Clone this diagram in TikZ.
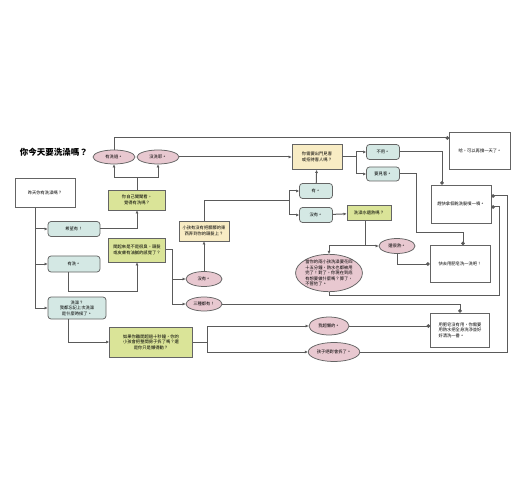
\documentclass[tikz,border=0pt]{standalone}
\usepackage{fontspec}
\newfontfamily\cjk{Noto Sans CJK TC}
\usepackage{tikz}
\usetikzlibrary{positioning, arrows.meta, shapes.geometric}
\definecolor{TealFill}{RGB}{212,232,228}
\definecolor{GreenFill}{RGB}{218,228,152}
\definecolor{SandFill}{RGB}{248,236,196}
\definecolor{PinkFill}{RGB}{232,200,208}
\definecolor{LineGray}{RGB}{90,90,90}
\definecolor{BorderGray}{RGB}{100,100,100}

\begin{document}
\begin{tikzpicture}[x=1pt, y=-1pt, >={Latex[length=3pt,width=3pt]}, line width=1pt,
    box/.style={draw=BorderGray, line width=0.75pt, inner sep=1pt, align=center,
      font=\cjk\fontsize{4.3}{5.6}\selectfont},
    plain/.style={box, fill=white},
    choice/.style={box, fill=TealFill, rounded corners=3pt},
    ask/.style={box, fill=GreenFill},
    sand/.style={box, fill=SandFill},
    oval/.style={box, ellipse, fill=PinkFill},
    conn/.style={draw=LineGray, ->},
    hit/.style={draw=LineGray, -{Circle[length=3.5pt]}}]
  % Page
  \useasboundingbox[fill=white] (0,0) rectangle (520,500);
  % Title
  \node[anchor=west, font=\cjk\bfseries\fontsize{8.5}{10}\selectfont] (title) at (16,152) {你今天要洗澡嗎？};
  % Start and first answers
  \node[plain, minimum width=60, minimum height=29] (start) at (45,193) {昨天你有洗澡嗎？};
  \node[choice, minimum width=52, minimum height=15] (hope) at (74,229) {希望有！};
  \node[choice, minimum width=52, minimum height=16] (yes) at (74,264) {有洗。};
  \node[choice, minimum width=58, minimum height=22] (forgot) at (77,308) {洗澡？\\我都忘記上次洗澡\\是什麼時候了。};
  % Questions (green)
  \node[ask, minimum width=57, minimum height=20] (smell) at (137,200) {你自己聞聞看，\\覺得有洗嗎？};
  \node[ask, minimum width=57, minimum height=24] (greasy) at (137,250) {聞起來是不是很臭，頭髮\\或皮膚有油膩的感覺了？};
  \node[ask, minimum width=83, minimum height=30] (leave) at (151,342) {如果你離開超過十秒鐘，你的\\小孩會把整間房子拆了嗎？還\\是你只是懶得動？};
  \node[ask, minimum width=44, minimum height=15] (hot) at (369,213) {洗澡水還熱嗎？};
  % Questions (sand)
  \node[sand, minimum width=50, minimum height=20] (dirt) at (204,231) {小孩有沒有把髒髒的東\\西弄到你的頭髮上？};
  \node[sand, minimum width=50, minimum height=25] (goout) at (317,157) {你需要出門見客\\或招待客人嗎？};
  % Ellipses
  \node[oval, minimum width=42, minimum height=14] (washed) at (114,157) {有洗過。};
  \node[oval, minimum width=42, minimum height=14] (notwashed) at (158,157) {沒洗耶。};
  \node[oval, minimum width=36, minimum height=15] (none) at (204,279) {沒有。};
  \node[oval, minimum width=36, minimum height=14] (allthree) at (204,304) {三種都有！};
  \node[oval, minimum width=36, minimum height=15] (stillhot) at (397,246) {還很熱。};
  \node[oval, minimum width=66, minimum height=37, inner sep=0pt, align=left] (kids) at (329,273) {當你的兩小孩洗澡要花四\\十五分鐘，熱水也都被用\\完了！對了，你現在到底\\有想要做什麼嗎？算了，\\不管他了。};
  \node[oval, minimum width=40, minimum height=18] (lazy) at (329,326) {我超懶的。};
  \node[oval, minimum width=50, minimum height=19] (destroy) at (334,352) {孩子絕對會拆了。};
  % Small answers (teal)
  \node[choice, minimum width=33, minimum height=15] (yes2) at (316,191) {有。};
  \node[choice, minimum width=33, minimum height=15] (no2) at (316,215) {沒有。};
  \node[choice, minimum width=33, minimum height=15] (noneed) at (383,152) {不用。};
  \node[choice, minimum width=33, minimum height=14] (guests) at (383,174) {要見客。};
  % Outcomes
  \node[plain, minimum width=61, minimum height=37] (oneday) at (480,151) {哈，可以再撐一天了。};
  \node[plain, minimum width=60, minimum height=38] (dryshampoo) at (461,204) {趕快拿個乾洗髮噴一噴。};
  \node[plain, minimum width=60, minimum height=37] (soap) at (460,264) {快去用肥皂洗一洗吧！};
  \node[plain, minimum width=59, minimum height=34, align=left] (scrub) at (460,330) {用肥皂沒有用，你需要\\用熱水把全身洗淨並好\\好清洗一番。};
  % Trunk from the start box
  \coordinate (trunk) at ([xshift=-10pt]start.south);
  \draw[conn] (trunk) |- (hope);
  \draw[conn] (trunk) |- (yes);
  \draw[conn] (trunk) |- (forgot);
  % Hope branch
  \draw[conn] (hope.east) -| (smell.south);
  \draw[draw=LineGray] (smell.north) -- ++(0,-12) coordinate (sj);
  \draw[conn] (sj) -| (washed.south);
  \draw[conn] (sj) -| (notwashed.south);
  \draw[hit] (washed.north) |- (oneday.west |- 0,138);
  \draw[conn] (notwashed) -- (goout);
  % Yes branch
  \draw[conn] ([xshift=-6pt]yes.south) -- ++(0,19) -| (greasy.south);
  \draw[draw=LineGray] (greasy.east) -- ++(7,0) coordinate (gj);
  \draw[conn] (gj) |- (none);
  \draw[conn] (gj) |- (allthree);
  \draw[conn] (none) -- (dirt);
  \coordinate (dj) at (289,201);
  \draw[draw=LineGray] (dirt.north) |- (dj);
  \draw[conn] (dj) |- (yes2);
  \draw[conn] (dj) |- (no2);
  \draw[conn] (yes2) -- (goout);
  \draw[conn] (no2) -- (hot);
  % Going out
  \draw[draw=LineGray] (goout.east) -- ++(14,0) coordinate (oj);
  \draw[conn] (oj) |- (noneed);
  \draw[conn] (oj) |- (guests);
  \draw[hit] (noneed.east) -| ([xshift=-19pt]dryshampoo.north);
  \draw[hit] (guests.east) -| (416,233) -| ([xshift=3pt]soap.north);
  % Hot water
  \draw[conn] ([xshift=-4pt]hot.south) |- (stillhot);
  \draw[conn] ([xshift=-4pt]hot.south |- stillhot) -| (kids.north);
  \draw[hit] (stillhot.south) |- (soap.west);
  \draw[hit] (kids.south) |- (499,295) |- ([yshift=-3pt]dryshampoo.east);
  \draw[hit] (allthree.east) -| (scrub.north);
  % Forgot branch
  \draw[conn] ([xshift=-9pt]forgot.south) |- (leave);
  \draw[draw=LineGray] (leave.east) -- ++(15,0) coordinate (lj);
  \draw[conn] (lj) |- (lazy);
  \draw[conn] (lj) |- (destroy);
  \draw[hit] (lazy.east) -- (lazy.east -| scrub.west);
  \draw[hit] (destroy.east) -| (507,196) -- ([yshift=8pt]dryshampoo.east);
\end{tikzpicture}
\end{document}
